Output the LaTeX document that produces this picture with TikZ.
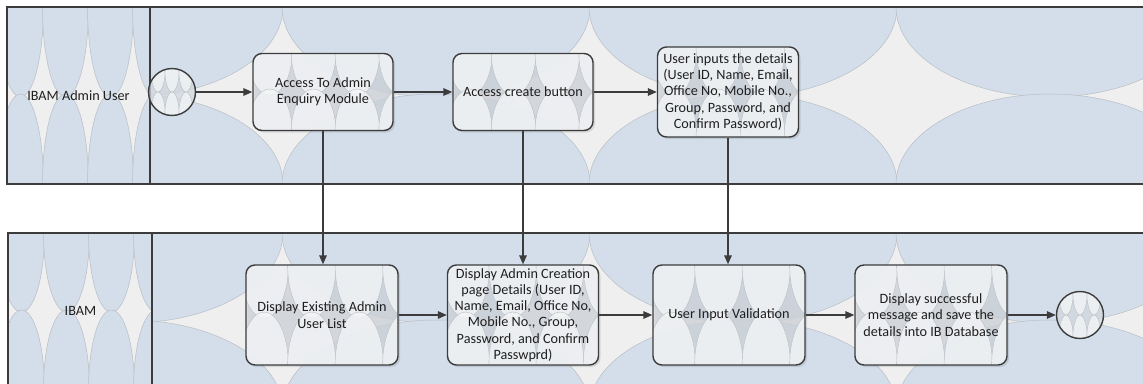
\documentclass[tikz,border=0pt]{standalone}
\usepackage{fontspec}
\setmainfont{Carlito}
\usetikzlibrary{arrows.meta}

\definecolor{lanecell}{HTML}{D3DEEA}
\definecolor{lanegap}{HTML}{EFEFEF}
\definecolor{seam}{HTML}{B9BEC4}
\definecolor{boxcell}{HTML}{F3F5F7}
\definecolor{boxgap}{HTML}{D2D7DD}
\definecolor{ink}{HTML}{3C3C3C}

\tikzset{
  lanerule/.style={draw=ink, line width=1.2pt},
  cellfill/.style={fill=lanecell, draw=seam, line width=0.5pt},
  stepbox/.style={draw=ink, line width=1.4pt, rounded corners=9pt,
    align=center, inner sep=2pt, text=black!88,
    font=\fontsize{14.2}{16.25}\selectfont},
  endpoint/.style={circle, draw=ink, line width=1.4pt, inner sep=0pt, minimum size=47pt},
  flow/.style={draw=ink, line width=1.5pt, -{Triangle[length=9pt,width=7.5pt]}},
  lanelabel/.style={font=\fontsize{14.2}{16.25}\selectfont, text=black!88},
}

% a row of ellipses hanging from y=#4 and standing on y=#5; the gaps between them form four-point stars
% #1 first centre x, #2 spacing, #3 last index, #4 top y, #5 bottom y, #6 x radius, #7 y radius
\newcommand\cellrow[7]{%
  \foreach \k in {0,...,#3}{
    \path[cellfill] (#1+\k*#2,#4) ellipse [x radius=#6, y radius=#7];
    \path[cellfill] (#1+\k*#2,#5) ellipse [x radius=#6, y radius=#7];
  }}

% textured body of a process box: #1 centre x, #2 centre y, #3 width, #4 height
\newcommand\stepcell[4]{%
  \fill[black, opacity=0.10, rounded corners=9pt]
    (#1-#3/2+2,#2-#4/2+2) rectangle (#1+#3/2+2,#2+#4/2+2);
  \begin{scope}
    \clip[rounded corners=9pt] (#1-#3/2,#2-#4/2) rectangle (#1+#3/2,#2+#4/2);
    \fill[boxgap, fill opacity=0.75] (#1-#3/2,#2-#4/2) rectangle (#1+#3/2,#2+#4/2);
    \foreach \k in {0,...,3}{
      \path[fill=boxcell, fill opacity=0.8, draw=seam, line width=0.4pt]
        (#1-#3/2+#3*0.12+\k*#3/3.2,#2-#4/2) ellipse [x radius=#3/6.3, y radius=#4/2+3];
      \path[fill=boxcell, fill opacity=0.8, draw=seam, line width=0.4pt]
        (#1-#3/2+#3*0.12+\k*#3/3.2,#2+#4/2) ellipse [x radius=#3/6.3, y radius=#4/2+3];
    }
  \end{scope}}

% textured body of a start/end circle: #1 centre x, #2 centre y
\newcommand\dotcell[2]{%
  \begin{scope}
    \clip (#1,#2) circle [radius=23.5];
    \fill[boxgap, fill opacity=0.75] (#1,#2) circle [radius=23.5];
    \foreach \k in {-2,...,2}{
      \path[fill=boxcell, fill opacity=0.8, draw=seam, line width=0.4pt]
        (#1+\k*14,#2-24) ellipse [x radius=7.3, y radius=24];
      \path[fill=boxcell, fill opacity=0.8, draw=seam, line width=0.4pt]
        (#1+\k*14,#2+24) ellipse [x radius=7.3, y radius=24];
    }
  \end{scope}}

\begin{document}
\begin{tikzpicture}[x=1pt, y=-1pt]
\useasboundingbox (0,0) rectangle (1143,383);
\clip (0,0) rectangle (1143,383);

% ---------- upper lane ----------
\begin{scope}
  \clip (7,7) rectangle (150,184);
  \fill[lanegap] (7,7) rectangle (150,184);
  \cellrow{-24.5}{45}{4}{7}{184}{23}{90}
\end{scope}
\begin{scope}
  \clip (150,7) rectangle (1150,184);
  \fill[lanegap] (150,7) rectangle (1150,184);
  \cellrow{-178}{307}{5}{7}{184}{154}{90}
\end{scope}
\draw[lanerule] (7,7) rectangle (1150,184);
\draw[lanerule] (150,7) -- (150,184);
\node[lanelabel] (laneA) at (78.5,96) {IBAM Admin User};

% ---------- lower lane ----------
\begin{scope}
  \clip (8,233) rectangle (152,412);
  \fill[lanegap] (8,233) rectangle (152,412);
  \cellrow{-23.5}{45}{4}{233}{389}{23}{79}
\end{scope}
\begin{scope}
  \clip (152,233) rectangle (1150,412);
  \fill[lanegap] (152,233) rectangle (1150,412);
  \cellrow{-178}{307}{5}{233}{410}{154}{90}
\end{scope}
\draw[lanerule] (8,233) rectangle (1150,412);
\draw[lanerule] (152,233) -- (152,412);
\node[lanelabel] (laneB) at (80.5,311) {IBAM};

% ---------- box bodies ----------
\dotcell{172}{92}
\stepcell{323}{92}{140}{77}
\stepcell{523}{92}{140}{77}
\stepcell{728}{92}{141}{90}
\stepcell{322}{315}{152}{100}
\stepcell{523}{315}{151}{100}
\stepcell{729}{315}{152}{100}
\stepcell{931}{315}{152}{100}
\dotcell{1080}{315}

% ---------- nodes ----------
\node[endpoint] (start) at (172,92) {};
\node[stepbox, minimum width=140pt, minimum height=77pt] (enq) at (323,92)
  {Access To Admin\\Enquiry Module};
\node[stepbox, minimum width=140pt, minimum height=77pt] (btn) at (523,92)
  {Access create button};
\node[stepbox, minimum width=141pt, minimum height=90pt] (inp) at (728,92)
  {User inputs the details\\(User ID, Name, Email,\\Office No, Mobile No.,\\Group, Password, and\\Confirm Password)};
\node[stepbox, minimum width=152pt, minimum height=100pt] (list) at (322,315)
  {Display Existing Admin\\User List};
\node[stepbox, minimum width=151pt, minimum height=100pt] (page) at (523,315)
  {Display Admin Creation\\page Details (User ID,\\Name, Email, Office No,\\Mobile No., Group,\\Password, and Confirm\\Passwprd)};
\node[stepbox, minimum width=152pt, minimum height=100pt] (valid) at (729,315)
  {User Input Validation};
\node[stepbox, minimum width=152pt, minimum height=100pt] (save) at (931,315)
  {Display successful\\message and save the\\details into IB Database};
\node[endpoint] (finish) at (1080,315) {};

% ---------- connectors ----------
\draw[flow] (start) -- (enq);
\draw[flow] (enq) -- (btn);
\draw[flow] (btn) -- (inp);
\draw[flow] (enq.south) -- (enq.south |- list.north);
\draw[flow] (btn.south) -- (btn.south |- page.north);
\draw[flow] (inp.south) -- (inp.south |- valid.north);
\draw[flow] (list) -- (page);
\draw[flow] (page) -- (valid);
\draw[flow] (valid) -- (save);
\draw[flow] (save) -- (finish);
\end{tikzpicture}
\end{document}
